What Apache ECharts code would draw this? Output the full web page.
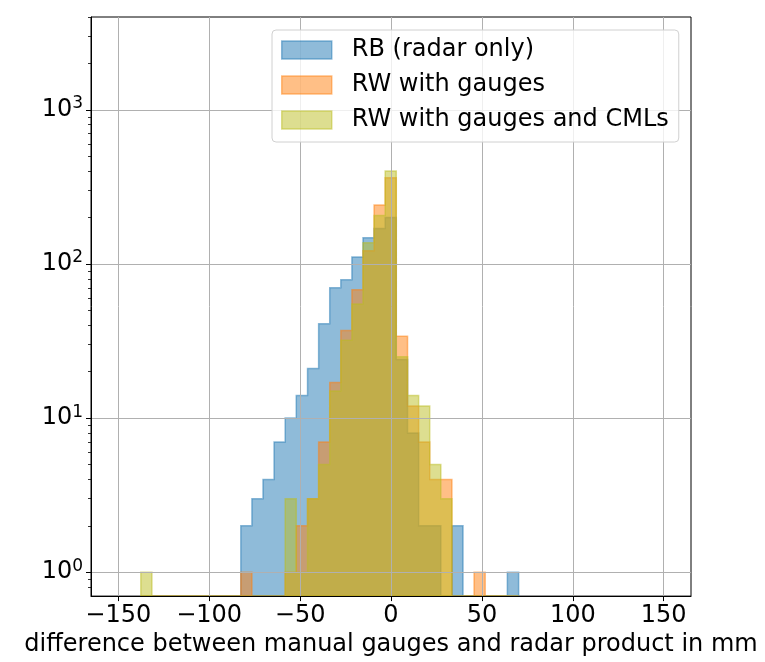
<!DOCTYPE html>
<html>
<head>
<meta charset="utf-8">
<script src="https://cdn.jsdelivr.net/npm/echarts@6/dist/echarts.min.js"></script>
<style>
  html, body { margin: 0; padding: 0; background: #fff; }
  #box { width: 765px; height: 662px; }
</style>
</head>
<body>
<div id="box"></div>
<script>
// bin edges of the histogram (mm)
var binEdges = [-137.6, -131.5, -125.4, -119.3, -113.2, -107.0, -100.9, -94.8, -88.7,
  -82.6, -76.5, -70.4, -64.3, -58.2, -52.1, -45.9, -39.8, -33.7, -27.6, -21.5,
  -15.4, -9.3, -3.2, 2.9, 9.1, 15.2, 21.3, 27.4, 33.5, 39.6, 45.7, 51.8, 57.9, 64.0, 70.2];

// counts per bin
var rbCounts = [0, 0, 0, 0, 0, 0, 0, 0, 0,
  2, 3, 4, 7, 10, 14, 21, 41, 70, 79, 111, 148, 170, 200, 24, 8, 2, 2, 0, 2, 0, 0, 0, 0, 1];
var rwCounts = [0, 0, 0, 0, 0, 0, 0, 0, 0,
  1, 0, 0, 0, 1, 2, 3, 7, 17, 37, 68, 122, 241, 363, 34, 12, 7, 4, 4, 0, 0, 1, 0, 0, 0];
var rwcCounts = [1, 0, 0, 0, 0, 0, 0, 0, 0,
  0, 0, 0, 0, 3, 1, 3, 5, 15, 32, 55, 137, 206, 401, 25, 14, 12, 5, 3, 0, 0, 0, 0, 0, 0];

var seriesNames = ['RB (radar only)', 'RW with gauges', 'RW with gauges and CMLs'];
var seriesColors = ['rgba(31,119,180,0.5)', 'rgba(255,127,14,0.5)', 'rgba(188,189,34,0.5)'];

var xTicks = [-150, -100, -50, 0, 50, 100, 150];
var yTicks = [1, 10, 100, 1000];
var yMinorTicks = [0.8, 0.9, 2, 3, 4, 5, 6, 7, 8, 9, 20, 30, 40, 50, 60, 70, 80, 90,
  200, 300, 400, 500, 600, 700, 800, 900, 2000, 3000, 4000];

var xMin = -165, xMax = 165;
var yMin = 0.7, yMax = 4000;

var font = 'DejaVu Sans';
var myChart = echarts.init(document.getElementById('box'));

// one step polygon per series (matplotlib "stepfilled")
function stepRender(counts, color) {
  return function (params, api) {
    var pts = [api.coord([binEdges[0], yMin])];
    for (var i = 0; i < counts.length; i++) {
      var h = counts[i] > 0 ? counts[i] : yMin;
      pts.push(api.coord([binEdges[i], h]));
      pts.push(api.coord([binEdges[i + 1], h]));
    }
    pts.push(api.coord([binEdges[binEdges.length - 1], yMin]));
    return {
      type: 'polygon',
      shape: { points: pts },
      style: { fill: color, stroke: color, lineWidth: 1.5 }
    };
  };
}

var allCounts = [rbCounts, rwCounts, rwcCounts];
var series = [];
for (var s = 0; s < 3; s++) {
  series.push({
    name: seriesNames[s],
    type: 'custom',
    xAxisIndex: 0,
    yAxisIndex: 0,
    data: [[0, 1]],
    encode: { x: 0, y: 1 },
    itemStyle: { color: seriesColors[s] },
    renderItem: stepRender(allCounts[s], seriesColors[s]),
    silent: true,
    z: 2
  });
}

function minusFmt(v) {
  return v < 0 ? '\u2212' + Math.abs(v) : String(v);
}

var option = {
  animation: false,
  textStyle: { fontFamily: font },
  grid: {
    left: 91, right: 74, top: 17, bottom: 62,
    show: true, borderColor: '#000', borderWidth: 1, backgroundColor: 'transparent'
  },
  legend: {
    orient: 'vertical',
    left: 272, top: 30,
    padding: [8, 10, 10, 9],
    itemWidth: 50, itemHeight: 18, itemGap: 11,
    backgroundColor: 'rgba(255,255,255,0.8)',
    borderColor: '#d0d0d0', borderWidth: 1, borderRadius: 4,
    textStyle: { fontFamily: font, fontSize: 24, color: '#000', lineHeight: 24, padding: [0, 0, 0, 15] },
    data: seriesNames.map(function (n, i) {
      return {
        name: n, icon: 'rect',
        itemStyle: { color: seriesColors[i], borderColor: seriesColors[i], borderWidth: 1.5 }
      };
    }),
    z: 10
  },
  xAxis: {
    type: 'value', min: xMin, max: xMax, z: 3,
    name: 'difference between manual gauges and radar product in mm',
    nameLocation: 'middle', nameGap: 34,
    nameTextStyle: { fontFamily: font, fontSize: 24, color: '#000' },
    axisLine: { show: true, onZero: false, lineStyle: { color: '#000', width: 1 } },
    axisTick: { show: true, length: 5, customValues: xTicks, lineStyle: { color: '#000', width: 1 } },
    axisLabel: { customValues: xTicks, margin: 8, fontFamily: font, fontSize: 24, color: '#000', formatter: minusFmt },
    splitLine: { show: true, lineStyle: { color: '#b0b0b0', width: 1 } }
  },
  yAxis: [{
    type: 'log', logBase: 10, min: yMin, max: yMax, z: 3, position: 'left',
    axisLine: { show: true, onZero: false, lineStyle: { color: '#000', width: 1 } },
    axisTick: { show: true, length: 5, customValues: yTicks, lineStyle: { color: '#000', width: 1 } },
    axisLabel: {
      customValues: yTicks, margin: 8, color: '#000',
      formatter: function (v) {
        var e = Math.round(Math.log10(v));
        return '{b|10}{s|' + e + '}';
      },
      rich: {
        b: { fontFamily: font, fontSize: 24, color: '#000' },
        s: { fontFamily: font, fontSize: 17, color: '#000', padding: [0, 0, 12, 0] }
      }
    },
    splitLine: { show: true, lineStyle: { color: '#b0b0b0', width: 1 } }
  }, {
    type: 'log', logBase: 10, min: yMin, max: yMax, z: 3, position: 'left',
    axisLine: { show: false, onZero: false },
    axisTick: { show: true, length: 3, customValues: yMinorTicks, lineStyle: { color: '#000', width: 0.8 } },
    axisLabel: { show: false },
    splitLine: { show: false }
  }],
  series: series
};

myChart.setOption(option);
</script>
</body>
</html>
